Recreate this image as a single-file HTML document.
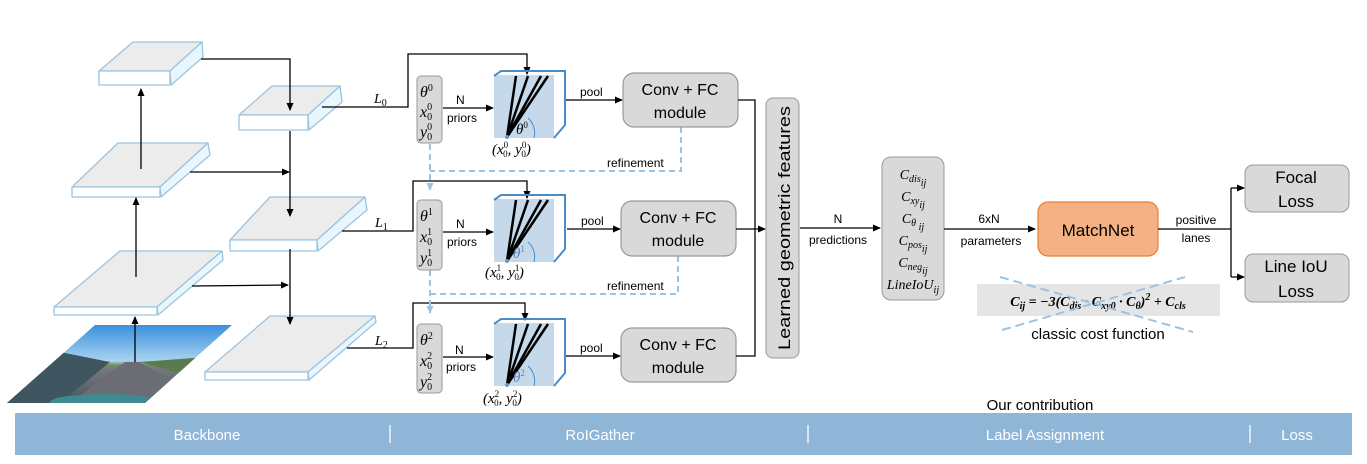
<!DOCTYPE html>
<html><head><meta charset="utf-8"><style>
html,body{margin:0;padding:0;background:#fff}
svg{display:block}
.s{font-family:"Liberation Sans",sans-serif}
.m{font-family:"Liberation Serif",serif;font-style:italic}
</style></head><body>
<svg width="1367" height="464" viewBox="0 0 1367 464" xmlns="http://www.w3.org/2000/svg">
<defs>
<marker id="a" markerWidth="8" markerHeight="8" refX="7" refY="4" orient="auto" markerUnits="userSpaceOnUse"><path d="M0,0.5 L8,4 L0,7.5z" fill="#000"/></marker>
<marker id="b" markerWidth="8" markerHeight="8" refX="7" refY="4" orient="auto" markerUnits="userSpaceOnUse"><path d="M0,0.5 L8,4 L0,7.5z" fill="#9cc3e5"/></marker>
<linearGradient id="sky" x1="0" y1="0" x2="0" y2="1">
<stop offset="0" stop-color="#3a8fde"/><stop offset="0.45" stop-color="#a8d4f0"/><stop offset="0.5" stop-color="#6f8f60"/><stop offset="0.55" stop-color="#77787e"/><stop offset="0.85" stop-color="#55606a"/><stop offset="1" stop-color="#2f3f4c"/></linearGradient>
<clipPath id="ic"><polygon points="95,325 232,325 145,403 7,403"/></clipPath>
</defs>

<!-- image -->
<g clip-path="url(#ic)">
<rect x="0" y="325" width="240" height="80" fill="url(#sky)"/>
<polygon points="125,362 140,362 210,403 70,403" fill="#6c6d74"/>
<polygon points="0,372 60,352 110,362 60,403 0,403" fill="#3f5560"/>
<polygon points="140,362 232,355 232,372 175,372" fill="#5a7a50"/>
<ellipse cx="105" cy="402" rx="55" ry="8" fill="#3d8a90"/>
</g>

<!-- slabs -->
<g stroke="#9cc3e0" stroke-width="1.3" stroke-linejoin="round">
<polygon points="99,71 133,42 202,42 170,71" fill="#ececec"/><rect x="99" y="71" width="71" height="14" fill="#fff"/><polygon points="170,71 202,42 203,57 171,85" fill="#e8f7fc"/>
<polygon points="72,187 118,143 208,143 160,187" fill="#ececec"/><rect x="72" y="187" width="88" height="10" fill="#fff"/><polygon points="160,187 208,143 210,155 161,197" fill="#e8f7fc"/>
<polygon points="54,307 120,251 222,251 157,307" fill="#ececec"/><rect x="54" y="307" width="103" height="8" fill="#fff"/><polygon points="157,307 222,251 223,260 158,315" fill="#e8f7fc"/>
<polygon points="239,115 272,86 340,86 308,115" fill="#ececec"/><rect x="239" y="115" width="69" height="15" fill="#fff"/><polygon points="308,115 340,86 342,102 309,130" fill="#e8f7fc"/>
<polygon points="230,240 270,197 365,197 317,240" fill="#ececec"/><rect x="230" y="240" width="87" height="11" fill="#fff"/><polygon points="317,240 365,197 367,210 318,251" fill="#e8f7fc"/>
<polygon points="205,372 270,316 375,316 308,372" fill="#ececec"/><rect x="205" y="372" width="103" height="8" fill="#fff"/><polygon points="308,372 375,316 376,322 309,380" fill="#e8f7fc"/>
</g>

<!-- backbone arrows -->
<g stroke="#000" stroke-width="1.3" fill="none">
<line x1="141" y1="169" x2="141" y2="89" marker-end="url(#a)"/>
<line x1="136" y1="277" x2="136" y2="198" marker-end="url(#a)"/>
<line x1="135" y1="362" x2="135" y2="317" marker-end="url(#a)"/>
<polyline points="201,59 290,59 290,110" marker-end="url(#a)"/>
<line x1="290" y1="131" x2="290" y2="216" marker-end="url(#a)"/>
<line x1="290" y1="249" x2="290" y2="324" marker-end="url(#a)"/>
<line x1="190" y1="172" x2="289" y2="172" marker-end="url(#a)"/>
<line x1="192" y1="286" x2="288" y2="285" marker-end="url(#a)"/>
<polyline points="322,107 408,107 408,54 527,54 527,74" marker-end="url(#a)"/>
<polyline points="342,231 413,231 413,181 527,181 527,198" marker-end="url(#a)"/>
<polyline points="347,348 413,348 413,303 525,303 525,320" marker-end="url(#a)"/>
</g>
<text x="374" y="103" class="m" font-size="14">L<tspan font-size="10" dy="3" font-style="normal">0</tspan></text>
<text x="375" y="227" class="m" font-size="14">L<tspan font-size="10" dy="3" font-style="normal">1</tspan></text>
<text x="375" y="345" class="m" font-size="14">L<tspan font-size="10" dy="3" font-style="normal">2</tspan></text>

<!-- refinement dashed -->
<g stroke="#9cc3e5" stroke-width="2" fill="none" stroke-dasharray="6,4">
<polyline points="681,127 681,171 430,171"/>
<line x1="430" y1="144" x2="430" y2="190" marker-end="url(#b)"/>
<polyline points="678,256 678,294 430,294"/>
<line x1="430" y1="270" x2="430" y2="313" marker-end="url(#b)"/>
</g>
<text x="607" y="167" class="s" font-size="12">refinement</text>
<text x="607" y="290" class="s" font-size="12">refinement</text>

<!-- param boxes -->
<g>
<rect x="417" y="76" width="25" height="67" rx="4" fill="#d9d9d9" stroke="#999"/>
<text x="420" y="97" class="m" font-size="16">θ<tspan font-size="10" dy="-6" font-style="normal">0</tspan></text>
<text x="420" y="117" class="m" font-size="16">x<tspan font-size="10" dy="-7" font-style="normal">0</tspan><tspan font-size="10" dx="-5" dy="10" font-style="normal">0</tspan></text>
<text x="420" y="137" class="m" font-size="16">y<tspan font-size="10" dy="-7" font-style="normal">0</tspan><tspan font-size="10" dx="-5" dy="10" font-style="normal">0</tspan></text>
</g>
<g transform="translate(0,124)">
<rect x="417" y="76" width="25" height="70" rx="4" fill="#d9d9d9" stroke="#999"/>
<text x="420" y="97" class="m" font-size="16">θ<tspan font-size="10" dy="-6" font-style="normal">1</tspan></text>
<text x="420" y="118" class="m" font-size="16">x<tspan font-size="10" dy="-7" font-style="normal">1</tspan><tspan font-size="10" dx="-5" dy="10" font-style="normal">0</tspan></text>
<text x="420" y="139" class="m" font-size="16">y<tspan font-size="10" dy="-7" font-style="normal">1</tspan><tspan font-size="10" dx="-5" dy="10" font-style="normal">0</tspan></text>
</g>
<g transform="translate(0,248)">
<rect x="417" y="76" width="25" height="69" rx="4" fill="#d9d9d9" stroke="#999"/>
<text x="420" y="97" class="m" font-size="16">θ<tspan font-size="10" dy="-6" font-style="normal">2</tspan></text>
<text x="420" y="118" class="m" font-size="16">x<tspan font-size="10" dy="-7" font-style="normal">2</tspan><tspan font-size="10" dx="-5" dy="10" font-style="normal">0</tspan></text>
<text x="420" y="139" class="m" font-size="16">y<tspan font-size="10" dy="-7" font-style="normal">2</tspan><tspan font-size="10" dx="-5" dy="10" font-style="normal">0</tspan></text>
</g>

<!-- cubes -->
<g>
<rect x="494" y="75" width="60" height="63" fill="#c5d9ea"/>
<polyline points="494,76 501,71 565,71 565,125 554,138" fill="none" stroke="#4a8cc8" stroke-width="2"/>
<g stroke="#000" stroke-width="2.5"><line x1="507" y1="137" x2="516" y2="76"/><line x1="507" y1="137" x2="528" y2="76"/><line x1="507" y1="137" x2="541" y2="76"/><line x1="507" y1="137" x2="548" y2="76"/></g>
<path d="M528,118 A20,20 0 0 1 534,138" fill="none" stroke="#4a8cc8" stroke-width="1"/>
<circle cx="507" cy="137" r="2" fill="#6a9acb"/>
<text x="516" y="134" class="m" font-size="15">θ<tspan font-size="9" dy="-6" font-style="normal">0</tspan></text>
</g>
<g transform="translate(0,124)">
<rect x="494" y="75" width="60" height="63" fill="#c5d9ea"/>
<polyline points="494,76 501,71 565,71 565,125 554,138" fill="none" stroke="#4a8cc8" stroke-width="2"/>
<g stroke="#000" stroke-width="2.5"><line x1="507" y1="137" x2="516" y2="76"/><line x1="507" y1="137" x2="528" y2="76"/><line x1="507" y1="137" x2="541" y2="76"/><line x1="507" y1="137" x2="548" y2="76"/></g>
<path d="M528,118 A20,20 0 0 1 534,138" fill="none" stroke="#4a8cc8" stroke-width="1"/>
<circle cx="507" cy="137" r="2" fill="#6a9acb"/>
<text x="513" y="134" class="m" font-size="15" fill="#5b84b1">θ<tspan font-size="9" dy="-6" font-style="normal">1</tspan></text>
</g>
<g transform="translate(0,248)">
<rect x="494" y="75" width="60" height="63" fill="#c5d9ea"/>
<polyline points="494,76 501,71 565,71 565,125 554,138" fill="none" stroke="#4a8cc8" stroke-width="2"/>
<g stroke="#000" stroke-width="2.5"><line x1="507" y1="137" x2="516" y2="76"/><line x1="507" y1="137" x2="528" y2="76"/><line x1="507" y1="137" x2="541" y2="76"/><line x1="507" y1="137" x2="548" y2="76"/></g>
<path d="M528,118 A20,20 0 0 1 534,138" fill="none" stroke="#4a8cc8" stroke-width="1"/>
<circle cx="507" cy="137" r="2" fill="#6a9acb"/>
<text x="513" y="134" class="m" font-size="15" fill="#5b84b1">θ<tspan font-size="9" dy="-6" font-style="normal">2</tspan></text>
</g>
<text x="492" y="154" class="m" font-size="15">(x<tspan font-size="9" dy="-6" font-style="normal">0</tspan><tspan font-size="9" dx="-5" dy="9" font-style="normal">0</tspan><tspan dy="-3">, y</tspan><tspan font-size="9" dy="-6" font-style="normal">0</tspan><tspan font-size="9" dx="-5" dy="9" font-style="normal">0</tspan><tspan dy="-3">)</tspan></text>
<text x="485" y="277" class="m" font-size="15">(x<tspan font-size="9" dy="-6" font-style="normal">1</tspan><tspan font-size="9" dx="-5" dy="9" font-style="normal">0</tspan><tspan dy="-3">, y</tspan><tspan font-size="9" dy="-6" font-style="normal">1</tspan><tspan font-size="9" dx="-5" dy="9" font-style="normal">0</tspan><tspan dy="-3">)</tspan></text>
<text x="483" y="403" class="m" font-size="15">(x<tspan font-size="9" dy="-6" font-style="normal">2</tspan><tspan font-size="9" dx="-5" dy="9" font-style="normal">0</tspan><tspan dy="-3">, y</tspan><tspan font-size="9" dy="-6" font-style="normal">2</tspan><tspan font-size="9" dx="-5" dy="9" font-style="normal">0</tspan><tspan dy="-3">)</tspan></text>

<!-- priors arrows and text -->
<g stroke="#000" stroke-width="1.3">
<line x1="443" y1="108" x2="493" y2="108" marker-end="url(#a)"/>
<line x1="443" y1="232" x2="493" y2="232" marker-end="url(#a)"/>
<line x1="443" y1="357" x2="493" y2="357" marker-end="url(#a)"/>
<line x1="566" y1="100" x2="622" y2="100" marker-end="url(#a)"/>
<line x1="567" y1="229" x2="620" y2="229" marker-end="url(#a)"/>
<line x1="566" y1="356" x2="620" y2="356" marker-end="url(#a)"/>
</g>
<g class="s" font-size="12">
<text x="456" y="104">N</text><text x="447" y="122">priors</text>
<text x="456" y="228">N</text><text x="447" y="246">priors</text>
<text x="455" y="354">N</text><text x="446" y="371">priors</text>
<text x="580" y="96">pool</text><text x="581" y="225">pool</text><text x="580" y="352">pool</text>
</g>

<!-- conv boxes -->
<g fill="#d9d9d9" stroke="#999" stroke-width="1.2">
<rect x="623" y="73" width="115" height="54" rx="11"/>
<rect x="621" y="201" width="115" height="55" rx="11"/>
<rect x="621" y="328" width="115" height="54" rx="11"/>
</g>
<g class="s" font-size="16" text-anchor="middle">
<text x="680" y="95">Conv + FC</text><text x="680" y="118">module</text>
<text x="678" y="223">Conv + FC</text><text x="678" y="246">module</text>
<text x="678" y="350">Conv + FC</text><text x="678" y="373">module</text>
</g>
<g stroke="#000" stroke-width="1.3" fill="none">
<polyline points="738,100 755,100 755,356 736,356"/>
<line x1="736" y1="229" x2="765" y2="229" marker-end="url(#a)"/>
</g>

<!-- learned features -->
<rect x="766" y="98" width="33" height="260" rx="7" fill="#d9d9d9" stroke="#999"/>
<text transform="translate(790,228) rotate(-90)" class="s" font-size="17" text-anchor="middle" textLength="244" lengthAdjust="spacingAndGlyphs">Learned geometric features</text>
<line x1="800" y1="228" x2="880" y2="228" stroke="#000" stroke-width="1.3" marker-end="url(#a)"/>
<text x="838" y="223" class="s" font-size="12" text-anchor="middle">N</text>
<text x="838" y="244" class="s" font-size="12" text-anchor="middle">predictions</text>

<!-- cost box -->
<rect x="882" y="157" width="62" height="143" rx="9" fill="#d9d9d9" stroke="#999"/>
<g class="m" font-size="14" text-anchor="middle">
<text x="913" y="179">C<tspan font-size="10" dy="3">dis</tspan><tspan font-size="10" dy="4">ij</tspan></text>
<text x="913" y="201">C<tspan font-size="10" dy="3">xy</tspan><tspan font-size="10" dy="4">ij</tspan></text>
<text x="913" y="223">C<tspan font-size="10" dy="3">θ</tspan><tspan font-size="10" dy="4"> ij</tspan></text>
<text x="913" y="245">C<tspan font-size="10" dy="3">pos</tspan><tspan font-size="10" dy="4">ij</tspan></text>
<text x="913" y="267">C<tspan font-size="10" dy="3">neg</tspan><tspan font-size="10" dy="4">ij</tspan></text>
<text x="913" y="289">LineIoU<tspan font-size="10" dy="4">ij</tspan></text>
</g>
<line x1="944" y1="229" x2="1035" y2="229" stroke="#000" stroke-width="1.3" marker-end="url(#a)"/>
<text x="989" y="223" class="s" font-size="12" text-anchor="middle">6xN</text>
<text x="991" y="245" class="s" font-size="12" text-anchor="middle">parameters</text>

<!-- MatchNet -->
<rect x="1038" y="202" width="120" height="54" rx="10" fill="#f4b183" stroke="#ed7d31" stroke-width="1.2"/>
<text x="1098" y="236" class="s" font-size="17" text-anchor="middle">MatchNet</text>
<g stroke="#000" stroke-width="1.3" fill="none">
<polyline points="1158,229 1231,229"/>
<line x1="1231" y1="188" x2="1231" y2="277"/>
<line x1="1231" y1="188" x2="1244" y2="188" marker-end="url(#a)"/>
<line x1="1231" y1="277" x2="1244" y2="277" marker-end="url(#a)"/>
</g>
<text x="1196" y="224" class="s" font-size="12" text-anchor="middle">positive</text>
<text x="1196" y="242" class="s" font-size="12" text-anchor="middle">lanes</text>
<rect x="1245" y="165" width="104" height="47" rx="8" fill="#d9d9d9" stroke="#999"/>
<rect x="1245" y="254" width="104" height="48" rx="8" fill="#d9d9d9" stroke="#999"/>
<g class="s" font-size="17" text-anchor="middle">
<text x="1296" y="183">Focal</text><text x="1296" y="207">Loss</text>
<text x="1296" y="272">Line IoU</text><text x="1296" y="297">Loss</text>
</g>

<!-- classic cost -->
<rect x="977" y="284" width="243" height="32" fill="#e5e5e5"/>
<text x="1098" y="306" font-family="Liberation Serif,serif" font-weight="bold" font-style="italic" font-size="14" text-anchor="middle">C<tspan font-size="10" dy="3">ij</tspan><tspan dy="-3"> = −3(C</tspan><tspan font-size="10" dy="3">dis</tspan><tspan dy="-3"> · C</tspan><tspan font-size="10" dy="3">xy0</tspan><tspan dy="-3"> · C</tspan><tspan font-size="10" dy="3">θ</tspan><tspan dy="-3">)</tspan><tspan font-size="10" dy="-6">2</tspan><tspan dy="6"> + C</tspan><tspan font-size="10" dy="3">cls</tspan></text>
<g stroke="#9cc3e5" stroke-width="2" stroke-dasharray="9,5">
<line x1="1000" y1="277" x2="1193" y2="332"/>
<line x1="1002" y1="330" x2="1185" y2="277"/>
</g>
<text x="1098" y="339" class="s" font-size="15" text-anchor="middle">classic cost function</text>
<text x="1040" y="410" class="s" font-size="15" text-anchor="middle">Our contribution</text>

<!-- bottom bar -->
<rect x="15" y="413" width="1337" height="42" fill="#8fb5d7"/>
<g class="s" font-size="15" fill="#fff" text-anchor="middle">
<text x="207" y="440">Backbone</text><text x="600" y="440">RoIGather</text><text x="1045" y="440">Label Assignment</text><text x="1297" y="440">Loss</text>
</g>
<g stroke="#fff" stroke-width="1.3">
<line x1="390" y1="425" x2="390" y2="443"/><line x1="808" y1="425" x2="808" y2="443"/><line x1="1250" y1="425" x2="1250" y2="443"/>
</g>
</svg>
</body></html>
